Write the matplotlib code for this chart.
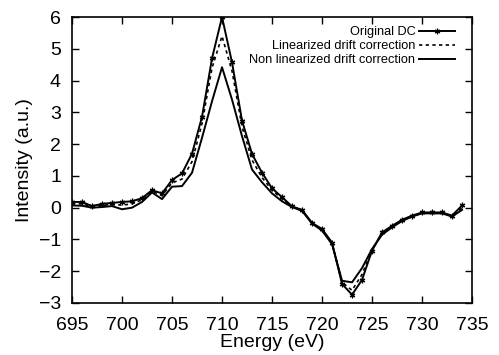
import numpy as np
import matplotlib
matplotlib.use('Agg')
from matplotlib import pyplot as plt

plt.rcParams['font.family'] = ['Liberation Sans', 'DejaVu Sans']

energy = np.arange(695, 735)
original = [0.18, 0.18, 0.05, 0.12, 0.15, 0.18, 0.2, 0.3, 0.55, 0.45,
            0.87, 1.08, 1.7, 2.86, 4.7, 6.0, 4.57, 2.74, 1.69, 1.1,
            0.61, 0.33, 0.04, -0.07, -0.48, -0.67, -1.1, -2.4, -2.74, -2.27,
            -1.35, -0.78, -0.57, -0.38, -0.25, -0.15, -0.15, -0.15, -0.25, 0.07]
linearized = [0.12, 0.12, 0.03, 0.07, 0.1, 0.08, 0.12, 0.25, 0.52, 0.38,
              0.78, 0.9, 1.45, 2.65, 4.4, 5.4, 4.3, 2.55, 1.5, 0.95,
              0.55, 0.28, 0.03, -0.08, -0.49, -0.7, -1.12, -2.35, -2.6, -2.1,
              -1.33, -0.8, -0.6, -0.4, -0.27, -0.17, -0.17, -0.17, -0.27, 0.0]
nonlinear = [0.07, 0.06, 0.0, 0.02, 0.05, -0.05, 0.0, 0.18, 0.48, 0.27,
             0.66, 0.68, 1.1, 2.2, 3.35, 4.42, 3.4, 2.25, 1.2, 0.8,
             0.45, 0.2, 0.02, -0.1, -0.5, -0.72, -1.15, -2.3, -2.35, -1.9,
             -1.3, -0.85, -0.62, -0.42, -0.28, -0.18, -0.18, -0.18, -0.28, -0.07]

fig = plt.figure(figsize=(4.99, 3.55), dpi=100)
ax = fig.add_axes([0.1443, 0.1465, 0.8017, 0.8055])

ax.plot(energy, original, color='black', lw=1.4, marker=(6, 2, 0),
        markersize=4, markeredgewidth=0.9, label='Original DC')
ax.plot(energy, linearized, color='black', lw=1.2, linestyle=(0, (2, 2)),
        label='Linearized drift correction')
ax.plot(energy, nonlinear, color='black', lw=1.4,
        label='Non linearized drift correction')

ax.set_xlim(695, 735)
ax.set_ylim(-3, 6)
ax.set_xticks(np.arange(695, 736, 5))
ax.set_yticks(np.arange(-3, 7, 1))
ax.tick_params(direction='in', top=True, right=True, length=5, width=1,
               labelsize=14)
ax.tick_params(axis='x', pad=10)
ax.tick_params(axis='y', pad=8)
for s in ax.spines.values():
    s.set_linewidth(1.2)

ax.set_xlabel('Energy (eV)', fontsize=14, labelpad=0)
ax.set_ylabel('Intensity (a.u.)', fontsize=14, labelpad=4)

ax.legend(loc='upper right', bbox_to_anchor=(0.97, 0.985), frameon=False,
          markerfirst=False, fontsize=9.2, handlelength=2.8,
          labelspacing=0.15, handletextpad=0.3, borderaxespad=0)

fig.savefig('out.png', dpi=100)
